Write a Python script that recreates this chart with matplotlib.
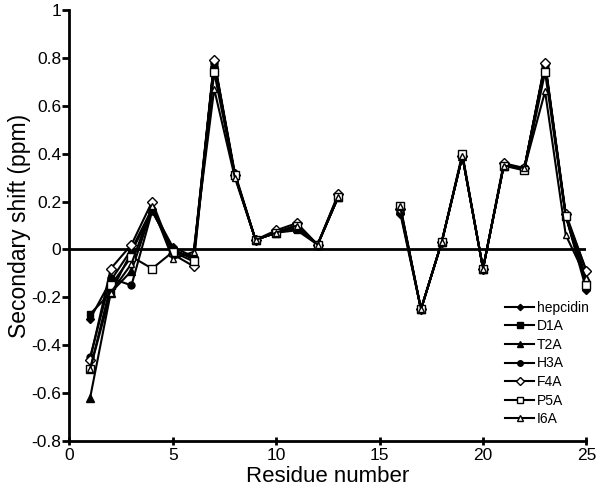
import numpy as np
import matplotlib.pyplot as plt

plt.rcParams['font.family'] = ['Liberation Sans', 'DejaVu Sans']

nan = np.nan
residues = [1, 2, 3, 4, 5, 6, 7, 8, 9, 10, 11, 12, 13, 14, 15,
            16, 17, 18, 19, 20, 21, 22, 23, 24, 25]

hepcidin = [-0.29, -0.13, 0.00, 0.17, 0.01, -0.03, 0.79, 0.32, 0.04, 0.07, 0.10, 0.02, 0.23, nan, nan,
            0.15, -0.25, 0.03, 0.39, -0.08, 0.35, 0.34, 0.78, 0.14, -0.17]
d1a = [-0.27, -0.18, -0.01, 0.16, 0.00, -0.04, 0.78, 0.31, 0.04, 0.07, 0.08, 0.02, 0.22, nan, nan,
       0.16, -0.25, 0.03, 0.39, -0.08, 0.35, 0.34, 0.77, 0.14, -0.15]
t2a = [-0.62, -0.18, -0.09, 0.17, -0.01, -0.03, 0.78, 0.31, 0.04, 0.07, 0.09, 0.02, 0.22, nan, nan,
       0.17, -0.25, 0.03, 0.39, -0.08, 0.35, 0.34, 0.77, 0.14, -0.12]
h3a = [-0.45, -0.12, -0.15, 0.16, 0.00, -0.04, 0.78, 0.31, 0.04, 0.07, 0.10, 0.02, 0.22, nan, nan,
       0.17, -0.25, 0.03, 0.39, -0.08, 0.35, 0.34, 0.77, 0.14, -0.09]
f4a = [-0.46, -0.08, 0.02, 0.20, -0.02, -0.07, 0.79, 0.31, 0.04, 0.08, 0.11, 0.02, 0.23, nan, nan,
       0.17, -0.25, 0.03, 0.39, -0.08, 0.36, 0.34, 0.78, 0.15, -0.09]
p5a = [-0.50, -0.15, -0.03, -0.08, -0.01, -0.05, 0.74, 0.31, 0.04, 0.07, 0.10, 0.02, 0.22, nan, nan,
       0.18, -0.25, 0.03, 0.40, -0.08, 0.35, 0.33, 0.74, 0.14, -0.15]
i6a = [-0.50, -0.18, -0.06, 0.18, -0.04, -0.01, 0.67, 0.30, 0.04, 0.07, 0.10, 0.02, 0.22, nan, nan,
       0.18, -0.25, 0.03, 0.39, -0.08, 0.35, 0.34, 0.66, 0.06, -0.12]

series = [
    ('hepcidin', hepcidin, 'D', 'black', 4),
    ('D1A', d1a, 's', 'black', 5),
    ('T2A', t2a, '^', 'black', 5.5),
    ('H3A', h3a, 'o', 'black', 5),
    ('F4A', f4a, 'D', 'white', 5),
    ('P5A', p5a, 's', 'white', 5.5),
    ('I6A', i6a, '^', 'white', 5),
]

fig = plt.figure(figsize=(6, 4.88), dpi=100)
ax = fig.add_axes([0.1157, 0.0963, 0.8617, 0.8832])

ax.axhline(0, color='black', lw=2, zorder=1)

for name, vals, mk, fc, ms in series:
    ax.plot(residues, vals, color='black', lw=1.5, marker=mk, markersize=ms,
            markerfacecolor=fc, markeredgecolor='black', markeredgewidth=1,
            label=name, zorder=3, clip_on=False)

ax.set_xlim(0, 25)
ax.set_ylim(-0.8, 1)
ax.set_xticks([0, 5, 10, 15, 20, 25])
ax.set_yticks(np.round(np.arange(-0.8, 1.01, 0.2), 1))
ax.set_yticklabels(['-0.8', '-0.6', '-0.4', '-0.2', '0', '0.2', '0.4', '0.6', '0.8', '1'])

for s in ['top', 'right']:
    ax.spines[s].set_visible(False)
for s in ['left', 'bottom']:
    ax.spines[s].set_linewidth(2)

ax.tick_params(axis='y', direction='out', length=5, width=2, labelsize=12.5, pad=1)
ax.tick_params(axis='x', direction='inout', length=6, width=2, labelsize=12.5, pad=2)

ax.set_xlabel('Residue number', fontsize=16, labelpad=2)
ax.set_ylabel('Secondary shift (ppm)', fontsize=16.5, labelpad=0)

leg = ax.legend(loc='lower right', bbox_to_anchor=(1.02, 0.015), frameon=False,
                fontsize=10, handlelength=2.1, handletextpad=0.15,
                labelspacing=0.33, markerscale=0.8, borderaxespad=0.2)

fig.savefig('out.png', dpi=100)
